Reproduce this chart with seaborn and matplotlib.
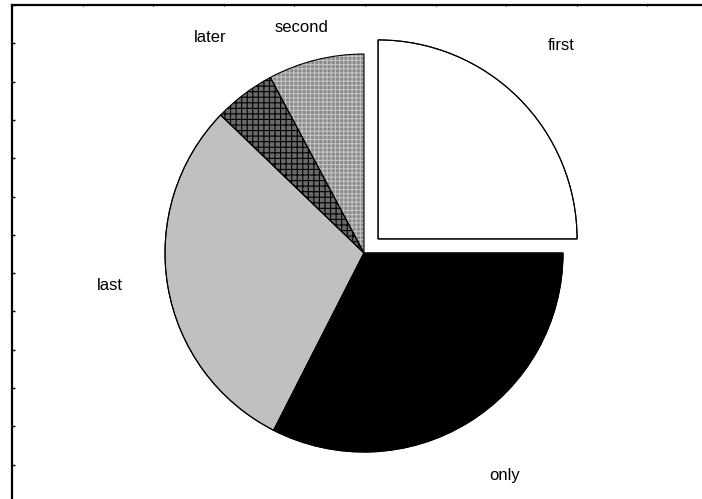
import numpy as np
import matplotlib
matplotlib.use('Agg')
import matplotlib.pyplot as plt
import seaborn as sns

# Slice data (clockwise from 12 o'clock)
labels = ['first', 'only', 'last', 'later', 'second']
shares = [25.0, 32.5, 29.7, 5.0, 7.8]
explode = [0.1, 0, 0, 0, 0]

# Styling per slice
face_colors = ['white', 'black', '#c0c0c0', '#6a6a6a', '#8a8a8a']
hatches = [None, None, None, '+++', '++++']
hatch_colors = [None, None, None, 'black', '#c4c4c4']

# Label positions in pie data units (radius = 1)
label_pos = [(0.99, 1.045), (0.709, -1.116), (-1.276, -0.161),
             (-0.774, 1.083), (-0.312, 1.131)]

sns.set_theme(style='white')
plt.rcParams['font.family'] = ['Liberation Sans', 'DejaVu Sans']
plt.rcParams['hatch.linewidth'] = 0.8

W, H = 702, 499
fig = plt.figure(figsize=(W / 100, H / 100), dpi=100)
fig.patch.set_facecolor('white')

# Outer frame: left and top lines with small inward ticks
fr = fig.add_axes([12 / W, -0.1, 1.0, 494 / H + 0.1])
fr.set_facecolor('none')
fr_h = (494 / H + 0.1) * H
fr.set_xlim(0, W)
fr.set_ylim(fr_h, 0)
for side in ['right', 'bottom']:
    fr.spines[side].set_visible(False)
for side in ['left', 'top']:
    fr.spines[side].set_visible(True)
    fr.spines[side].set_color('black')
    fr.spines[side].set_linewidth(1.6)
fr.set_xticks(np.arange(0, W, 70.6))
fr.set_yticks(np.arange(0, fr_h, 38.3))
fr.xaxis.set_ticks_position('top')
fr.tick_params(axis='y', direction='in', length=2.5, width=1, color='black',
               labelleft=False, left=True)
fr.tick_params(axis='x', direction='in', length=1, width=0.8, color='black',
               labeltop=False, labelbottom=False, top=True, bottom=False)

# Pie axes: centre (364, 253) px, radius 199 px
r_px = 199
cx, cy = 364, H - 253
half = 1.2 * r_px
ax = fig.add_axes([(cx - half) / W, (cy - half) / H, 2 * half / W, 2 * half / H])
ax.set_facecolor('none')

wedges, texts = ax.pie(shares, labels=labels, explode=explode, startangle=90,
                       counterclock=False, colors=face_colors,
                       wedgeprops=dict(edgecolor='black', linewidth=0.8),
                       textprops=dict(fontsize=12, color='black'))

for w, h, hc in zip(wedges, hatches, hatch_colors):
    if h:
        w.set_hatch(h)
        w.set_edgecolor(hc)
        w.set_linewidth(0)

# Outlines on top of hatched fills
ax.pie(shares, explode=explode, startangle=90, counterclock=False,
       wedgeprops=dict(fill=False, edgecolor='black', linewidth=0.8))

for t, (x, y) in zip(texts, label_pos):
    t.set_position((x, y))
    t.set_ha('center')
    t.set_va('center')

ax.set_xlim(-1.2, 1.2)
ax.set_ylim(-1.2, 1.2)
ax.set_aspect('equal')
ax.axis('off')

fig.savefig('out.png', dpi=100, facecolor='white')
